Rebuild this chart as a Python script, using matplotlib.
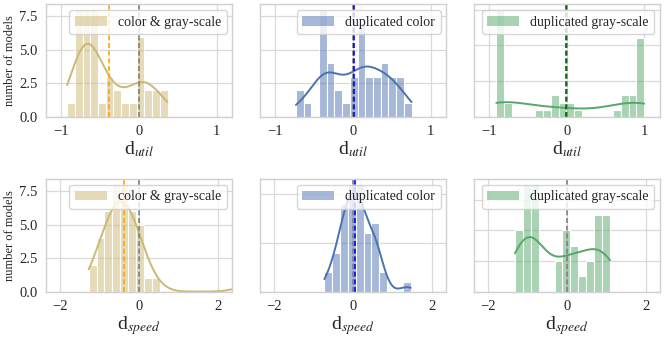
import numpy as np
import matplotlib
matplotlib.use('Agg')
import matplotlib.pyplot as plt
from matplotlib.patches import Patch
import seaborn as sns

# labels and colours of the three groups (columns)
groups = ['color & gray-scale', 'duplicated color', 'duplicated gray-scale']
colors = ['#ccb974', '#4c72b0', '#55a868']
mean_colors = ['orange', 'blue', 'darkgreen']
weights = [1.0, 1.0, 0.5]   # gray-scale pairs counted as half a model

# d_util histograms: first bin edge, bin width, models per bin
util_start = [-0.926, -0.734, -0.909]
util_width = [0.0995, 0.0993, 0.1003]
util_tan = [1, 8, 8, 8, 1, 3, 2, 1, 1, 6, 2, 2, 2]
util_blue = [2, 1, 0, 8, 4, 2, 1, 3, 7, 3, 3, 4, 3, 3, 1]
util_green = [15, 2, 0, 0, 0, 1, 1, 3, 2, 2, 1, 0, 0, 0, 0, 1, 3, 3, 11]
util_means = [-0.39, 0.02, -0.01]

# d_speed histograms
speed_start = [-1.27, -0.72, -1.31]
speed_width = [0.2, 0.198, 0.2]
speed_tan = [2, 4, 6, 8, 8, 6, 5, 1, 1, 0, 0, 0, 0, 0, 0, 0, 0, 0, 0, 1]
speed_blue = [2, 4, 9, 11, 11, 6, 7, 2, 0, 0, 1]
speed_green = [4, 7, 7, 0, 0, 2, 4, 3, 1, 2, 5, 5]
speed_means = [-0.39, 0.05, None]

sns.set_theme(style='whitegrid')
plt.rcParams['font.family'] = ['Liberation Serif', 'DejaVu Serif']
plt.rcParams['mathtext.fontset'] = 'stix'
plt.rcParams['axes.edgecolor'] = '0.82'
plt.rcParams['grid.color'] = '0.85'
plt.rcParams['grid.linewidth'] = 0.9
plt.rcParams['axes.linewidth'] = 1.0

dash = (0, (3, 1.6))


def draw_hist(ax, start, width, counts, weight, color, label, mean, mcolor):
    counts = np.asarray(counts)
    edges = start + width * np.arange(len(counts) + 1)
    centers = edges[:-1] + width / 2
    x = np.repeat(centers, counts)
    w = np.full(len(x), weight)
    sns.histplot(x=x, weights=w, bins=edges.tolist(), kde=True, ax=ax,
                 color=color, alpha=0.5, edgecolor='white', linewidth=0.8,
                 kde_kws=dict(cut=3, clip=(edges[0], edges[-1])),
                 line_kws=dict(linewidth=1.4))
    ax.axvline(0, color='gray', ls=dash, lw=1.2)
    if mean is not None:
        ax.axvline(mean, color=mcolor, ls=dash, lw=1.2)
    h = Patch(facecolor=color, alpha=0.5, edgecolor='none', label=label)
    ax.legend(handles=[h], loc='upper right', fontsize=10, handlelength=2.3,
              borderaxespad=0.4, framealpha=0.8, borderpad=0.4)


fig, axs = plt.subplots(2, 3, figsize=(6.64, 3.41), dpi=100)
fig.subplots_adjust(left=0.069, right=0.994, top=0.987, bottom=0.145,
                    wspace=0.148, hspace=0.554)

util_data = [util_tan, util_blue, util_green]
speed_data = [speed_tan, speed_blue, speed_green]

for j in range(3):
    ax = axs[0, j]
    draw_hist(ax, util_start[j], util_width[j], util_data[j], weights[j],
              colors[j], groups[j], util_means[j], mean_colors[j])
    ax.set_xlim(-1.2, 1.2)
    ax.set_xticks([-1, 0, 1])
    ax.set_xlabel(r'd$_{util}$', fontsize=14, labelpad=1)

    ax = axs[1, j]
    draw_hist(ax, speed_start[j], speed_width[j], speed_data[j], weights[j],
              colors[j], groups[j], speed_means[j], mean_colors[j])
    ax.set_xlim(-2.35, 2.35)
    ax.set_xticks([-2, 0, 2])
    ax.set_xlabel(r'd$_{speed}$', fontsize=14, labelpad=1)

yticks = [[0, 2.5, 5, 7.5], [0, 2.5, 5, 7.5], [0, 2.5, 5, 7.5],
          [0, 2.5, 5, 7.5], [0, 5, 10], [0, 1, 2, 3]]
for k, ax in enumerate(axs.flat):
    ax.set_yticks(yticks[k])
    ax.tick_params(axis='both', labelsize=10.5, length=0, pad=6)
    if k % 3 == 0:
        ax.set_yticklabels(['0.0', '2.5', '5.0', '7.5'])
        ax.set_ylabel('number of models', fontsize=9, labelpad=2)
    else:
        ax.tick_params(labelleft=False)
        ax.set_ylabel('')

fig.savefig('out.png', dpi=100)
